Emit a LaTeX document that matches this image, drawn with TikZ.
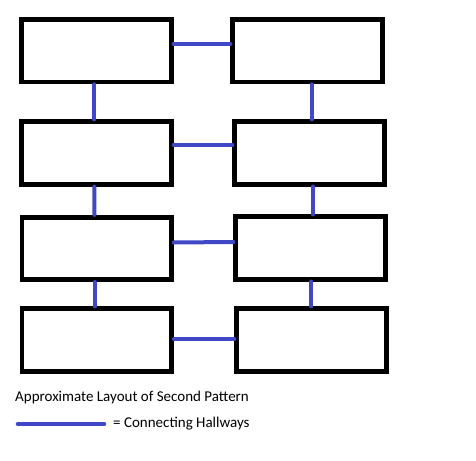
\documentclass[tikz,border=0pt]{standalone}
\usepackage{fontspec}
\setmainfont{Carlito}
\definecolor{hallblue}{RGB}{64,72,200}
\tikzset{
  room/.style={draw=black, line width=4.7pt, inner sep=0pt, minimum width=149.5pt, minimum height=62.5pt},
  hall/.style={hallblue, line width=4pt, line cap=round},
  legend/.style={inner sep=0pt, anchor=base west, font=\fontsize{15}{17}\selectfont}
}
\begin{document}
\begin{tikzpicture}[x=1pt, y=-1pt]
	\useasboundingbox (0,0) rectangle (476,460);
    % rooms, left and right column
    \node[room] (r1a) at (96.5,50.7) {};
    \node[room] (r1b) at (307.5,50.7) {};
    \node[room] (r2a) at (96.5,153) {};
    \node[room] (r2b) at (309.5,153) {};
    \node[room] (r3a) at (96.7,248.5) {};
    \node[room] (r3b) at (310.5,248) {};
    \node[room] (r4a) at (96.7,340) {};
    \node[room] (r4b) at (311.5,340) {};
    % hallways across
    \draw[hall] ([yshift=6.7pt]r1a.east) -- ([yshift=6.7pt]r1b.west);
    \draw[hall] ([yshift=8pt]r2a.east) -- ([yshift=8pt]r2b.west);
    \draw[hall] ([yshift=6pt]r3a.east) -- ([yshift=6pt]r3b.west);
    \draw[hall] ([yshift=1pt]r4a.east) -- ([yshift=1pt]r4b.west);
    % hallways down
    \draw[hall] ([xshift=-2.2pt]r1a.south) -- ([xshift=-2.2pt]r2a.north);
    \draw[hall] ([xshift=4.2pt]r1b.south) -- ([xshift=2.2pt]r2b.north);
    \draw[hall] ([xshift=-2.2pt]r2a.south) -- ([xshift=-2.2pt]r3a.north);
    \draw[hall] ([xshift=3.5pt]r2b.south) -- ([xshift=2.5pt]r3b.north);
    \draw[hall] ([xshift=-2.2pt]r3a.south) -- ([xshift=-2.2pt]r4a.north);
    \draw[hall] ([xshift=0.8pt]r3b.south) -- ([xshift=-0.2pt]r4b.north);
    % legend
    \node[legend] (title) at (15,401) {Approximate Layout of Second Pattern};
    \coordinate (k1) at (18,424);
    \coordinate (k2) at (104,424);
    \draw[hall, line width=4.6pt] (k1) -- (k2);
    \node[legend] (key) at (113,427.7) {= Connecting Hallways};
\end{tikzpicture}
\end{document}
